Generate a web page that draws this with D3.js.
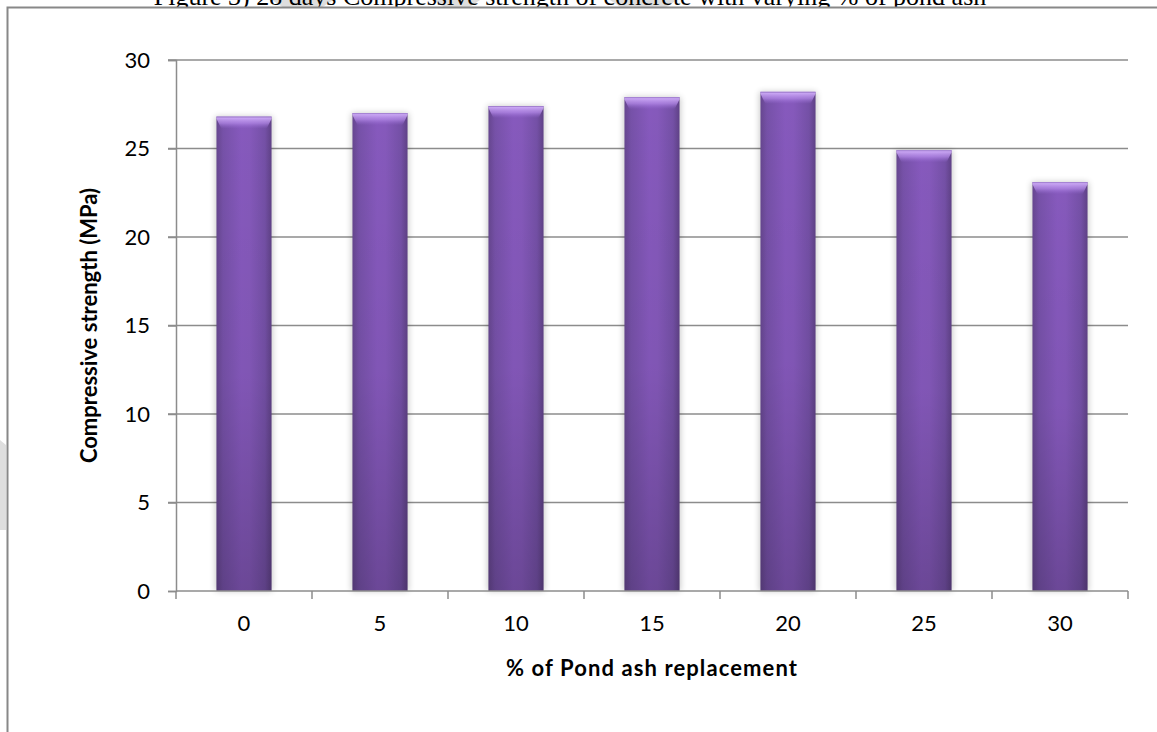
<!DOCTYPE html>
<html>
<head>
<meta charset="utf-8">
<script src="https://cdn.jsdelivr.net/npm/d3@7"></script>
<style>
  html, body { margin: 0; padding: 0; background: #fff; }
  svg { display: block; }
</style>
</head>
<body>
<svg id="chart" width="1157" height="732"></svg>
<script>
// Pond ash replacement levels (%) and 28-day compressive strength (MPa)
const categories = ["0", "5", "10", "15", "20", "25", "30"];
const strength = [26.8, 27.0, 27.4, 27.9, 28.2, 24.9, 23.1];
const yTicks = [0, 5, 10, 15, 20, 25, 30];

const titleText = "Figure 3) 28 days Compressive strength of concrete with varying % of pond ash";
const yTitle = "Compressive strength (MPa)";
const xTitle = "% of Pond ash replacement";

const svg = d3.select("#chart");
const W = 1157, H = 732;
const plot = { left: 176, right: 1128, top: 60, bottom: 591 };
const sans = "Lato, 'Open Sans', sans-serif";

const defs = svg.append("defs");

// horizontal body shading of the bars
const gBody = defs.append("linearGradient").attr("id", "barBody")
  .attr("x1", "0%").attr("x2", "100%").attr("y1", "0%").attr("y2", "0%");
[["0%", "#66468f"], ["12%", "#7651a8"], ["45%", "#8659bd"], ["60%", "#8559bb"], ["88%", "#7450a6"], ["100%", "#5f4186"]]
  .forEach(([o, c]) => gBody.append("stop").attr("offset", o).attr("stop-color", c));

// vertical darkening towards the base
const gShade = defs.append("linearGradient").attr("id", "barShade")
  .attr("x1", "0").attr("x2", "0").attr("y1", "0").attr("y2", "1");
[["0%", "#000", 0], ["55%", "#000", 0.04], ["100%", "#000", 0.2]]
  .forEach(([o, c, a]) => gShade.append("stop").attr("offset", o).attr("stop-color", c).attr("stop-opacity", a));

// light bevel on top
const gBevel = defs.append("linearGradient").attr("id", "barBevel")
  .attr("x1", "0").attr("x2", "0").attr("y1", "0").attr("y2", "1");
[["0%", "#d9b8ff", 0.95], ["55%", "#b48ae8", 0.7], ["100%", "#9a6fd6", 0]]
  .forEach(([o, c, a]) => gBevel.append("stop").attr("offset", o).attr("stop-color", c).attr("stop-opacity", a));

const shadow = defs.append("filter").attr("id", "soft")
  .attr("x", "-30%").attr("y", "-10%").attr("width", "160%").attr("height", "120%");
shadow.append("feGaussianBlur").attr("stdDeviation", 3);

// faint watermark shapes behind the heading
const marks = svg.append("g").attr("fill", "#dedede");
[[272, 333], [433, 480], [610, 677]].forEach(([a, b]) => {
  marks.append("path").attr("d", `M${a},0 L${b},0 L${b - 12},8 L${a + 12},8 Z`);
});
marks.append("path").attr("d", "M0,440 L6,445 L6,530 L0,530 Z");

// heading, mostly above the top edge
svg.append("text")
  .attr("x", 570).attr("y", 5)
  .attr("text-anchor", "middle")
  .attr("font-family", "'Liberation Serif', 'Times New Roman', serif")
  .attr("font-size", 26)
  .attr("fill", "#000")
  .text(titleText);

// chart frame
svg.append("rect")
  .attr("x", 7.5).attr("y", 7.5).attr("width", W + 20).attr("height", H + 20)
  .attr("fill", "#fff").attr("stroke", "#888").attr("stroke-width", 2);

const x = d3.scaleBand().domain(categories).range([plot.left, plot.right]).padding(0);
const y = d3.scaleLinear().domain([0, 30]).range([plot.bottom, plot.top]);

// gridlines
svg.append("g")
  .selectAll("line").data(yTicks.filter(t => t > 0)).join("line")
  .attr("x1", plot.left - 8).attr("x2", plot.right)
  .attr("y1", d => y(d)).attr("y2", d => y(d))
  .attr("stroke", "#8c8c8c").attr("stroke-width", 1.5);

// bars
const barW = x.bandwidth() * 0.405;
const bx = d => x(d.c) + (x.bandwidth() - barW) / 2;
const bars = svg.append("g").selectAll("g").data(categories.map((c, i) => ({ c, v: strength[i] }))).join("g");
bars.append("rect")
  .attr("x", d => bx(d) - 1)
  .attr("y", d => y(d.v))
  .attr("width", barW + 2).attr("height", d => y(0) - y(d.v))
  .attr("fill", "#000").attr("opacity", 0.22).attr("filter", "url(#soft)");
bars.append("rect")
  .attr("x", bx).attr("y", d => y(d.v))
  .attr("width", barW).attr("height", d => y(0) - y(d.v))
  .attr("fill", "url(#barBody)");
bars.append("rect")
  .attr("x", bx).attr("y", d => y(d.v))
  .attr("width", barW).attr("height", d => y(0) - y(d.v))
  .attr("fill", "url(#barShade)");
bars.append("path")
  .attr("d", d => {
    const x0 = bx(d), x1 = x0 + barW, t = y(d.v);
    return `M${x0},${t} L${x1},${t} L${x1},${t + 2} L${x1 - 5},${t + 12} L${x0 + 5},${t + 12} L${x0},${t + 2} Z`;
  })
  .attr("fill", "url(#barBevel)");
bars.append("line")
  .attr("x1", bx).attr("x2", d => bx(d) + barW)
  .attr("y1", d => y(d.v) + 0.5).attr("y2", d => y(d.v) + 0.5)
  .attr("stroke", "#a27fd0").attr("stroke-width", 1);

// y axis
const yAxis = svg.append("g").attr("transform", `translate(${plot.left},0)`)
  .call(d3.axisLeft(y).tickValues(yTicks).tickSize(8).tickPadding(18));
yAxis.select(".domain").attr("stroke", "#8c8c8c").attr("stroke-width", 1.5);
yAxis.selectAll(".tick line").attr("stroke", "#8c8c8c").attr("stroke-width", 1.5);
yAxis.selectAll("text")
  .attr("font-family", sans).attr("font-size", 22).attr("fill", "#000");

// x axis with ticks between categories
const xAxisG = svg.append("g").attr("transform", `translate(0,${plot.bottom})`);
xAxisG.append("line").attr("x1", plot.left).attr("x2", plot.right)
  .attr("stroke", "#8c8c8c").attr("stroke-width", 1.5);
const bounds = categories.map(c => x(c)).concat([plot.right]);
xAxisG.selectAll("line.tk").data(bounds).join("line").attr("class", "tk")
  .attr("x1", d => d).attr("x2", d => d).attr("y1", 0).attr("y2", 8)
  .attr("stroke", "#8c8c8c").attr("stroke-width", 1.5);
xAxisG.selectAll("text").data(categories).join("text")
  .attr("x", d => x(d) + x.bandwidth() / 2).attr("y", 40)
  .attr("text-anchor", "middle")
  .attr("font-family", sans).attr("font-size", 22).attr("fill", "#000")
  .text(d => d);

// axis titles
svg.append("text")
  .attr("transform", `translate(97,${(plot.top + plot.bottom) / 2}) rotate(-90)`)
  .attr("text-anchor", "middle")
  .attr("font-family", sans).attr("font-weight", "bold").attr("font-size", 22)
  .attr("fill", "#000")
  .text(yTitle);
svg.append("text")
  .attr("x", 652).attr("y", 676)
  .attr("text-anchor", "middle")
  .attr("font-family", sans).attr("font-weight", "bold").attr("font-size", 22)
  .attr("letter-spacing", 1.1)
  .attr("fill", "#000")
  .text(xTitle);
</script>
</body>
</html>
